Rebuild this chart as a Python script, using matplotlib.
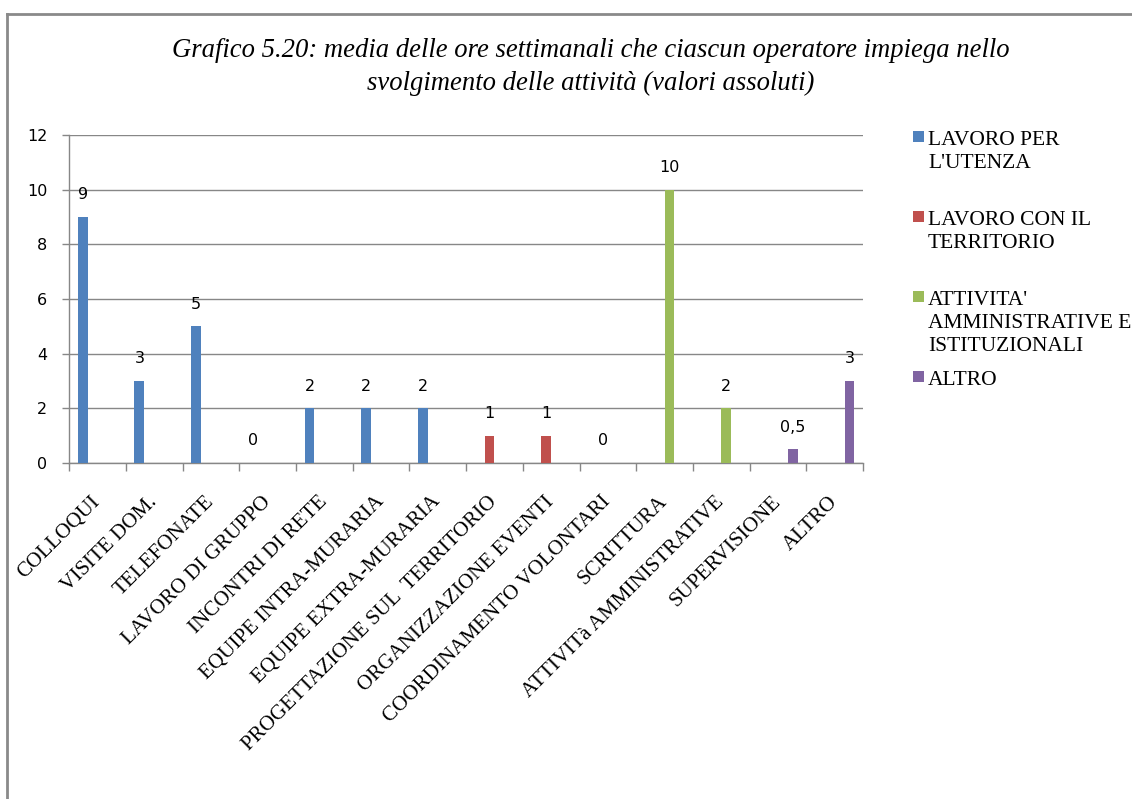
import numpy as np
import matplotlib
matplotlib.use("Agg")
import matplotlib.pyplot as plt
from matplotlib.patches import Rectangle
from matplotlib.lines import Line2D
from matplotlib.ticker import FixedLocator

# activities on the x axis
categories = [
    "COLLOQUI", "VISITE DOM.", "TELEFONATE", "LAVORO DI GRUPPO",
    "INCONTRI DI RETE", "EQUIPE INTRA-MURARIA", "EQUIPE EXTRA-MURARIA",
    "PROGETTAZIONE SUL  TERRITORIO", "ORGANIZZAZIONE EVENTI",
    "COORDINAMENTO VOLONTARI", "SCRITTURA", "ATTIVITà AMMINISTRATIVE",
    "SUPERVISIONE", "ALTRO",
]

# one value per activity, None where the activity is not in that group
lavoro_utenza = [9, 3, 5, 0, 2, 2, 2, None, None, None, None, None, None, None]
lavoro_territorio = [None, None, None, None, None, None, None, 1, 1, 0, None, None, None, None]
attivita_amm = [None, None, None, None, None, None, None, None, None, None, 10, 2, None, None]
altro = [None, None, None, None, None, None, None, None, None, None, None, None, 0.5, 3]

series_names = [
    "LAVORO PER\nL'UTENZA",
    "LAVORO CON IL\nTERRITORIO",
    "ATTIVITA'\nAMMINISTRATIVE E\nISTITUZIONALI",
    "ALTRO",
]
series_values = [lavoro_utenza, lavoro_territorio, attivita_amm, altro]
colors = ["#4F81BD", "#C0504D", "#9BBB59", "#8064A2"]

y_ticks = [0, 2, 4, 6, 8, 10, 12]

SERIF = ["Liberation Serif", "DejaVu Serif"]
SANS = ["DejaVu Sans"]
GRID = "#878787"

W, H = 1132, 799
fig = plt.figure(figsize=(W / 100, H / 100), dpi=100)

# outer chart frame (runs off the right and bottom edges)
fig.add_artist(Line2D([7 / W, 1.0], [1 - 14 / H, 1 - 14 / H], color="#8a8a8a", lw=2.0))
fig.add_artist(Line2D([7 / W, 7 / W], [0.0, 1 - 14 / H], color="#8a8a8a", lw=2.0))

ax = fig.add_axes([69.3 / W, 1 - 463 / H, (863 - 69.3) / W, (463 - 135) / H])

n = len(categories)
x = np.arange(n)
bar_w = 0.175
for i, (vals, col) in enumerate(zip(series_values, colors)):
    off = (i - 1.5) * bar_w
    for xi, v in zip(x, vals):
        if v is None:
            continue
        ax.bar(xi + off, v, width=bar_w, color=col, edgecolor="none", zorder=3)
        txt = str(v).replace(".", ",")
        ax.annotate(txt, (xi + off, v), xytext=(0, 16), textcoords="offset points",
                    ha="center", va="center", fontsize=11.5, family=SANS, zorder=4)

ax.set_xlim(-0.5, n - 0.5)
ax.set_ylim(0, 12)

# horizontal gridlines
ax.set_yticks(y_ticks)
ax.yaxis.grid(True, color=GRID, lw=1.0, zorder=1)
ax.set_axisbelow(True)
ax.tick_params(axis="y", length=4.7, width=1.0, color=GRID, pad=11, labelsize=11.5)
for lbl in ax.get_yticklabels():
    lbl.set_family(SANS)

# category labels at centres, tick marks at boundaries
ax.set_xticks(x)
ax.set_xticklabels(categories, rotation=45, ha="right", va="center",
                   rotation_mode="anchor", family=SERIF, fontsize=15.2)
ax.tick_params(axis="x", which="major", length=0, pad=26)
ax.xaxis.set_minor_locator(FixedLocator(np.arange(-0.5, n, 1.0)))
ax.tick_params(axis="x", which="minor", length=5.5, width=1.0, color=GRID)

for s in ["top", "right"]:
    ax.spines[s].set_visible(False)
for s in ["left", "bottom"]:
    ax.spines[s].set_color(GRID)
    ax.spines[s].set_linewidth(1.0)

# title
fig.text(591 / W, 1 - 67 / H,
         "Grafico 5.20: media delle ore settimanali che ciascun operatore impiega nello\n"
         "svolgimento delle attività (valori assoluti)",
         ha="center", va="center", family=SERIF, style="italic", fontsize=19.2,
         linespacing=1.45)

# legend: one slot per series
for i, (name, col) in enumerate(zip(series_names, colors)):
    top = 131 + i * 80
    fig.add_artist(Rectangle((913 / W, 1 - (top + 11) / H), 11 / W, 11 / H,
                             transform=fig.transFigure, color=col, lw=0))
    fig.text(928 / W, 1 - top / H, name, ha="left", va="top",
             family=SERIF, fontsize=15.5, linespacing=1.3)

fig.savefig("out.png", dpi=100)
